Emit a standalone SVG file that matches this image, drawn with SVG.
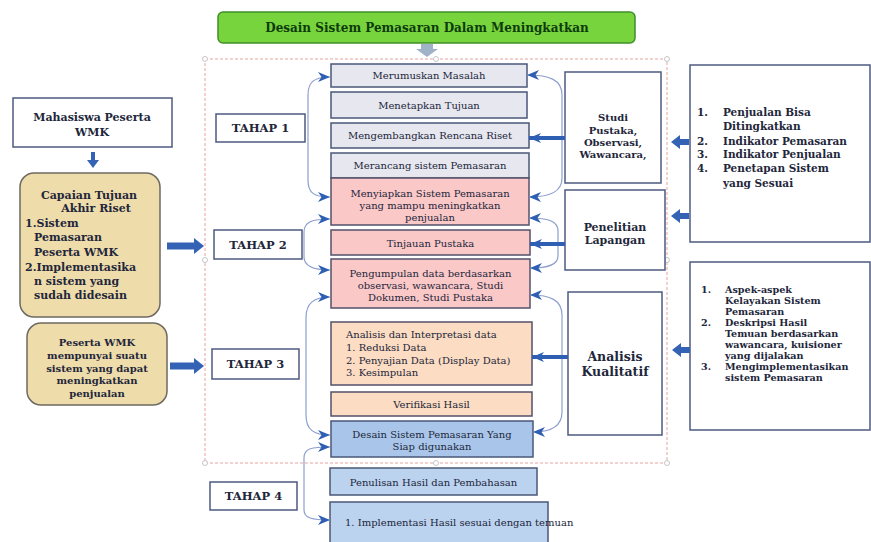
<svg xmlns="http://www.w3.org/2000/svg" width="871" height="542" viewBox="0 0 871 542">
<style>
.t{font-family:"DejaVu Serif","Liberation Serif",serif;fill:#22263a;dominant-baseline:central}
.c{text-anchor:middle}
.n{font-size:10px}
.b{font-weight:bold}
.wb{fill:#fff;stroke:#4d5a80;stroke-width:1.5}
.grey{fill:#e6e7ef;stroke:#4a5878;stroke-width:1.5}
.pink{fill:#fbc8c8;stroke:#55506a;stroke-width:1.5}
.peach{fill:#fcdcc2;stroke:#55506a;stroke-width:1.5}
.blue{fill:#a9c6ea;stroke:#4a5878;stroke-width:1.5}
.lblue{fill:#bcd3ef;stroke:#4a5878;stroke-width:1.5}
.tan{fill:#efdcab;stroke:#6e6a62;stroke-width:1.5}
.br{fill:none;stroke:#8d9fcf;stroke-width:1.2;marker-start:url(#ah);marker-end:url(#ah)}
.bar{stroke:#2f5fb3;stroke-width:4;marker-end:url(#ah)}
.ba{fill:#3462b4}
</style>
<defs>
<marker id="ah" markerUnits="userSpaceOnUse" markerWidth="12" markerHeight="12" refX="12" refY="6" orient="auto-start-reverse" viewBox="0 0 12 12"><path d="M0,1 L12,6 L0,11 L3.5,6 z" fill="#2f5fb3"/></marker>
</defs>
<rect width="871" height="542" fill="#fff"/>

<g id="title">
<rect x="218" y="12" width="417" height="31" rx="5" fill="#78d43c" stroke="#3f8f2a" stroke-width="1.5"/>
<text class="t b c" x="427" y="27.5" style="font-size:12px;fill:#0d3b0d">Desain Sistem Pemasaran Dalam Meningkatkan</text>
</g>

<g id="frame">
<rect x="205" y="59" width="462" height="404" fill="none" stroke="#e9a3a3" stroke-width="1" stroke-dasharray="3,2"/>
<g fill="#fff" stroke="#b9b9b9" stroke-width="0.8">
<circle cx="205" cy="59" r="2.5"/><circle cx="436" cy="59" r="2.5"/><circle cx="667" cy="59" r="2.5"/>
<circle cx="205" cy="260" r="2.5"/><circle cx="667" cy="260" r="2.5"/>
<circle cx="205" cy="463" r="2.5"/><circle cx="436" cy="463" r="2.5"/><circle cx="667" cy="463" r="2.5"/>
</g>
</g>

<g id="mahasiswa">
<rect class="wb" x="13" y="98" width="159" height="49"/>
<text class="t b c" x="92" y="117" style="font-size:11px">Mahasiswa Peserta</text>
<text class="t b c" x="92" y="132" style="font-size:11px">WMK</text>
</g>

<g id="capaian">
<rect class="tan" x="20" y="173" width="140" height="144" rx="14"/>
<g class="t b" style="font-size:11px">
<text class="c" x="89" y="195">Capaian Tujuan</text>
<text class="c" x="96" y="208">Akhir Riset</text>
<text x="25" y="223">1.Sistem</text>
<text x="34" y="237">Pemasaran</text>
<text x="34" y="252">Peserta WMK</text>
<text x="25" y="267">2.Implementasika</text>
<text x="34" y="281">n sistem yang</text>
<text x="34" y="295">sudah didesain</text>
</g>
</g>

<g id="peserta">
<rect class="tan" x="27" y="323" width="140" height="82" rx="14"/>
<g class="t b c" style="font-size:10px">
<text x="97" y="342">Peserta WMK</text>
<text x="97" y="355">mempunyai suatu</text>
<text x="97" y="368">sistem yang dapat</text>
<text x="97" y="380">meningkatkan</text>
<text x="97" y="393">penjualan</text>
</g>
</g>

<g id="tahap1"><rect class="wb" x="216" y="114" width="89" height="28"/><text class="t b c" x="260.5" y="128" style="font-size:11.5px">TAHAP 1</text></g>
<g id="tahap2"><rect class="wb" x="214" y="230" width="88" height="29"/><text class="t b c" x="258" y="244.5" style="font-size:11.5px">TAHAP 2</text></g>
<g id="tahap3"><rect class="wb" x="212" y="349" width="87" height="30"/><text class="t b c" x="255.5" y="364" style="font-size:11.5px">TAHAP 3</text></g>
<g id="tahap4"><rect class="wb" x="210" y="482" width="87" height="28"/><text class="t b c" x="253.5" y="496" style="font-size:11.5px">TAHAP 4</text></g>

<g id="merumuskan"><rect class="grey" x="331" y="64" width="196" height="23"/><text class="t n c" x="429" y="75.5">Merumuskan Masalah</text></g>
<g id="menetapkan"><rect class="grey" x="331" y="92" width="196" height="26"/><text class="t n c" x="429" y="105">Menetapkan Tujuan</text></g>
<g id="mengembangkan"><rect class="grey" x="331" y="123" width="198" height="25"/><text class="t n c" x="430" y="135.5">Mengembangkan Rencana Riset</text></g>
<g id="merancang"><rect class="grey" x="331" y="153" width="198" height="25"/><text class="t n c" x="430" y="165.5">Merancang sistem Pemasaran</text></g>
<g id="menyiapkan"><rect class="pink" x="331" y="178" width="198" height="47"/>
<text class="t n c" x="430" y="193">Menyiapkan Sistem Pemasaran</text>
<text class="t n c" x="430" y="205">yang mampu meningkatkan</text>
<text class="t n c" x="430" y="217">penjualan</text></g>
<g id="tinjauan"><rect class="pink" x="331" y="230" width="199" height="25"/><text class="t n c" x="430.5" y="243">Tinjauan Pustaka</text></g>
<g id="pengumpulan"><rect class="pink" x="331" y="259" width="199" height="49"/>
<text class="t n c" x="430.5" y="273">Pengumpulan data berdasarkan</text>
<text class="t n c" x="430.5" y="285">observasi, wawancara, Studi</text>
<text class="t n c" x="430.5" y="297">Dokumen, Studi Pustaka</text></g>
<g id="analisisdata"><rect class="peach" x="331" y="322" width="201" height="63"/>
<text class="t n" x="346" y="334">Analisis dan Interpretasi data</text>
<text class="t n" x="346" y="347">1. Reduksi Data</text>
<text class="t n" x="346" y="360">2. Penyajian Data (Display Data)</text>
<text class="t n" x="346" y="372">3. Kesimpulan</text></g>
<g id="verifikasi"><rect class="peach" x="331" y="392" width="201" height="24"/><text class="t n c" x="431.5" y="404">Verifikasi  Hasil</text></g>
<g id="desain"><rect class="blue" x="331" y="421" width="202" height="36"/>
<text class="t n c" x="432" y="434">Desain Sistem Pemasaran Yang</text>
<text class="t n c" x="432" y="446">Siap digunakan</text></g>
<g id="penulisan"><rect class="lblue" x="330" y="468" width="207" height="27"/><text class="t n c" x="433.5" y="482">Penulisan Hasil dan Pembahasan</text></g>
<g id="implementasi"><rect class="lblue" x="330" y="502" width="218" height="45"/><text class="t n" x="345" y="522">1. Implementasi Hasil sesuai dengan temuan</text></g>

<g id="studi"><rect class="wb" x="565" y="72" width="96" height="111"/>
<g class="t b c" style="font-size:10px">
<text x="613" y="117">Studi</text><text x="613" y="130">Pustaka,</text><text x="613" y="142">Observasi,</text><text x="613" y="154">Wawancara,</text></g></g>
<g id="penelitian"><rect class="wb" x="565" y="190" width="100" height="80"/>
<g class="t b c" style="font-size:11px"><text x="615" y="227">Penelitian</text><text x="615" y="240">Lapangan</text></g></g>
<g id="kualitatif"><rect class="wb" x="568" y="292" width="94" height="143"/>
<g class="t b c" style="font-size:12.5px"><text x="615" y="356">Analisis</text><text x="615" y="371">Kualitatif</text></g></g>

<g id="list1"><rect class="wb" x="690" y="65" width="180" height="177"/>
<g class="t b" style="font-size:10.5px">
<text x="697" y="112">1.</text><text x="723" y="112">Penjualan Bisa</text>
<text x="723" y="126">Ditingkatkan</text>
<text x="697" y="141">2.</text><text x="723" y="141">Indikator Pemasaran</text>
<text x="697" y="154">3.</text><text x="723" y="154">Indikator Penjualan</text>
<text x="697" y="168">4.</text><text x="723" y="168">Penetapan Sistem</text>
<text x="723" y="183">yang Sesuai</text></g></g>
<g id="list2"><rect class="wb" x="690" y="262" width="180" height="168"/>
<g class="t b" style="font-size:9.6px">
<text x="701" y="289">1.</text><text x="725" y="289">Aspek-aspek</text>
<text x="725" y="300">Kelayakan Sistem</text>
<text x="725" y="311">Pemasaran</text>
<text x="701" y="322">2.</text><text x="725" y="322">Deskripsi Hasil</text>
<text x="725" y="333">Temuan berdasarkan</text>
<text x="725" y="344">wawancara, kuisioner</text>
<text x="725" y="355">yang dijalakan</text>
<text x="701" y="366">3.</text><text x="725" y="366">Mengimplementasikan</text>
<text x="725" y="377">sistem Pemasaran</text></g></g>

<g id="connectors">
<path d="M421,44 L433,44 L433,49 L438,49 L427,57 L416,49 L421,49 Z" fill="#9fb2c8"/>
<path class="ba" d="M91,152 L95,152 L95,160 L99,160 L93,168 L87,160 L91,160 Z"/>
<path class="ba" d="M167,242.5 L194,242.5 L194,238 L204,246 L194,254 L194,249.5 L167,249.5 Z"/>
<path class="ba" d="M170,362.5 L194,362.5 L194,358 L204,366 L194,374 L194,369.5 L170,369.5 Z"/>
<path class="ba" d="M689,139 L680,139 L680,135 L671,142 L680,149 L680,145 L689,145 Z"/>
<path class="ba" d="M689,213 L680,213 L680,209 L671,216 L680,223 L680,219 L689,219 Z"/>
<path class="ba" d="M690,347 L681,347 L681,343 L672,350 L681,357 L681,353 L690,353 Z"/>
<path class="br" d="M330,77 C314,77 308,82 308,95 L308,180 C308,193 314,197 330,197"/>
<path class="br" d="M330,219 C312,219 304,222 304,232 L304,257 C304,266 312,270 330,270"/>
<path class="br" d="M330,297 C314,297 306,303 306,318 L306,415 C306,430 314,435 330,435"/>
<path class="br" d="M330,447 C312,447 304,448 304,458 L304,510 C304,518 312,520 330,520"/>
<path class="br" d="M527,75 C550,75 562,80 562,95 L562,178 C562,192 550,197 529,197"/>
<path class="br" d="M529,218 C548,218 558,221 558,231 L558,256 C558,265 548,268 530,268"/>
<path class="br" d="M530,295 C550,295 562,300 562,315 L562,412 C562,427 550,432 533,432"/>
<line class="bar" x1="565" y1="138" x2="529" y2="138"/>
<line class="bar" x1="565" y1="244" x2="530" y2="244"/>
<line class="bar" x1="568" y1="357" x2="532" y2="357"/>
</g>
</svg>
